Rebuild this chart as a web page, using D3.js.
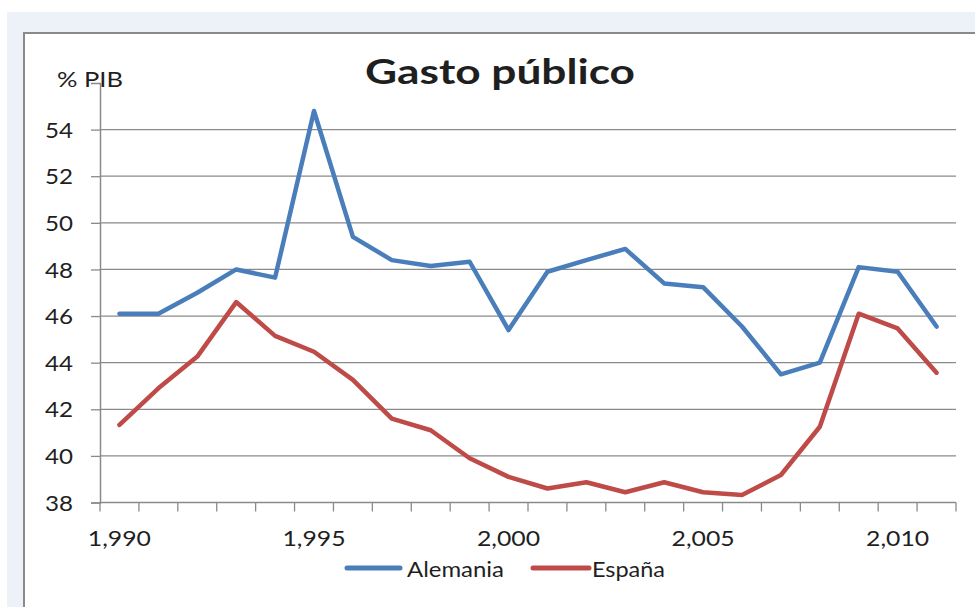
<!DOCTYPE html>
<html>
<head>
<meta charset="utf-8">
<script src="https://cdn.jsdelivr.net/npm/d3@7"></script>
<style>
  html, body { margin: 0; padding: 0; background: #ffffff; }
  svg { display: block; }
  text { font-family: Lato, "Open Sans", sans-serif; fill: #1f1f1f; }
</style>
</head>
<body>
<svg id="chart" width="975" height="607"></svg>
<script>
// Public spending as % of GDP, 1990–2011
const years = d3.range(1990, 2012);
const alemania = [46.1, 46.1, 47.0, 48.0, 47.65, 54.8, 49.4, 48.4, 48.15, 48.33, 45.4,
                  47.9, 48.4, 48.88, 47.4, 47.24, 45.55, 43.5, 44.0, 48.1, 47.9, 45.55];
const espana   = [41.33, 42.9, 44.26, 46.6, 45.15, 44.47, 43.26, 41.6, 41.1, 39.9, 39.1,
                  38.6, 38.87, 38.44, 38.87, 38.44, 38.32, 39.18, 41.25, 46.1, 45.47, 43.57];
const yTicks = [38, 40, 42, 44, 46, 48, 50, 52, 54];
const xLabelYears = [1990, 1995, 2000, 2005, 2010];
const seriesNames = ["Alemania", "España"];
const seriesColors = ["#4a7ebb", "#be4b48"];
const titleText = "Gasto público";
const unitText = "% PIB";

const svg = d3.select("#chart");
const W = 975, H = 607;

// Widen glyph runs slightly so the text has the chart's wide, narrow-font look
const widen = (sel, k) => sel.each(function () {
  const w = this.getComputedTextLength();
  d3.select(this).attr("textLength", w * k).attr("lengthAdjust", "spacingAndGlyphs");
});

// Outer frame: pale blue surround and white chart box
svg.append("rect").attr("x", 7).attr("y", 12).attr("width", W).attr("height", H)
  .attr("fill", "#edf2f9");
svg.append("rect").attr("x", 24).attr("y", 33).attr("width", W + 10).attr("height", H)
  .attr("fill", "#ffffff").attr("stroke", "#8a8a8a").attr("stroke-width", 2);

const plot = { left: 100, right: 956, top: 83, bottom: 502.5 };

const x = d3.scaleBand().domain(years).range([plot.left, plot.right]).padding(0);
const y = d3.scaleLinear().domain([38, 56]).range([plot.bottom, plot.top]);
const cx = yr => x(yr) + x.bandwidth() / 2;

// Horizontal gridlines
svg.append("g").selectAll("line").data(yTicks.slice(1)).join("line")
  .attr("x1", plot.left).attr("x2", plot.right)
  .attr("y1", d => y(d)).attr("y2", d => y(d))
  .attr("stroke", "#8a8a8a").attr("stroke-width", 1.3);

// Y axis
const yAxis = d3.axisLeft(y).tickValues(yTicks).tickSize(9).tickPadding(18).tickFormat(d3.format("d"));
const gy = svg.append("g").attr("transform", `translate(${plot.left},0)`).call(yAxis);
gy.select(".domain").attr("stroke", "#8a8a8a").attr("stroke-width", 1.5);
gy.selectAll(".tick line").attr("stroke", "#8a8a8a").attr("stroke-width", 1.3);
gy.selectAll(".tick text").attr("font-size", 21).attr("font-family", "Lato, sans-serif")
  .attr("fill", "#1f1f1f").attr("dy", "0.36em").call(widen, 1.15);

// X axis: ticks between categories, labels every 5 years
const xBoundaries = years.map(d => x(d)).concat([plot.right]);
const gx = svg.append("g");
gx.append("line").attr("x1", plot.left).attr("x2", plot.right)
  .attr("y1", plot.bottom).attr("y2", plot.bottom)
  .attr("stroke", "#8a8a8a").attr("stroke-width", 1.5);
gx.selectAll("line.tk").data(xBoundaries).join("line").attr("class", "tk")
  .attr("x1", d => d).attr("x2", d => d)
  .attr("y1", plot.bottom).attr("y2", plot.bottom + 9)
  .attr("stroke", "#8a8a8a").attr("stroke-width", 1.3);
gx.selectAll("text").data(xLabelYears).join("text")
  .attr("x", d => cx(d)).attr("y", 546)
  .attr("text-anchor", "middle").attr("font-size", 21)
  .text(d => d3.format(",")(d))
  .call(widen, 1.18);

// Series lines
const line = d3.line().x((d, i) => cx(years[i])).y(d => y(d));
[alemania, espana].forEach((vals, k) => {
  svg.append("path").datum(vals)
    .attr("d", line)
    .attr("fill", "none")
    .attr("stroke", seriesColors[k])
    .attr("stroke-width", 4.5)
    .attr("stroke-linejoin", "round")
    .attr("stroke-linecap", "round");
});

// Title and unit label
svg.append("text").attr("x", 500).attr("y", 84).attr("text-anchor", "middle")
  .attr("font-size", 34).attr("font-weight", "bold").attr("fill", "#000")
  .text(titleText)
  .attr("textLength", 270).attr("lengthAdjust", "spacingAndGlyphs");
svg.append("text").attr("x", 57).attr("y", 87).attr("font-size", 21)
  .attr("fill", "#333").text(unitText)
  .attr("textLength", 66).attr("lengthAdjust", "spacingAndGlyphs");

// Legend
const legendItems = [
  { name: seriesNames[0], color: seriesColors[0], x1: 347, x2: 400, tx: 407, tw: 97 },
  { name: seriesNames[1], color: seriesColors[1], x1: 533, x2: 589, tx: 592, tw: 73 }
];
const lg = svg.append("g");
legendItems.forEach(it => {
  lg.append("line").attr("x1", it.x1).attr("x2", it.x2).attr("y1", 568).attr("y2", 568)
    .attr("stroke", it.color).attr("stroke-width", 5).attr("stroke-linecap", "round");
  lg.append("text").attr("x", it.tx).attr("y", 577).attr("font-size", 21).text(it.name)
    .attr("textLength", it.tw).attr("lengthAdjust", "spacingAndGlyphs");
});
</script>
</body>
</html>
